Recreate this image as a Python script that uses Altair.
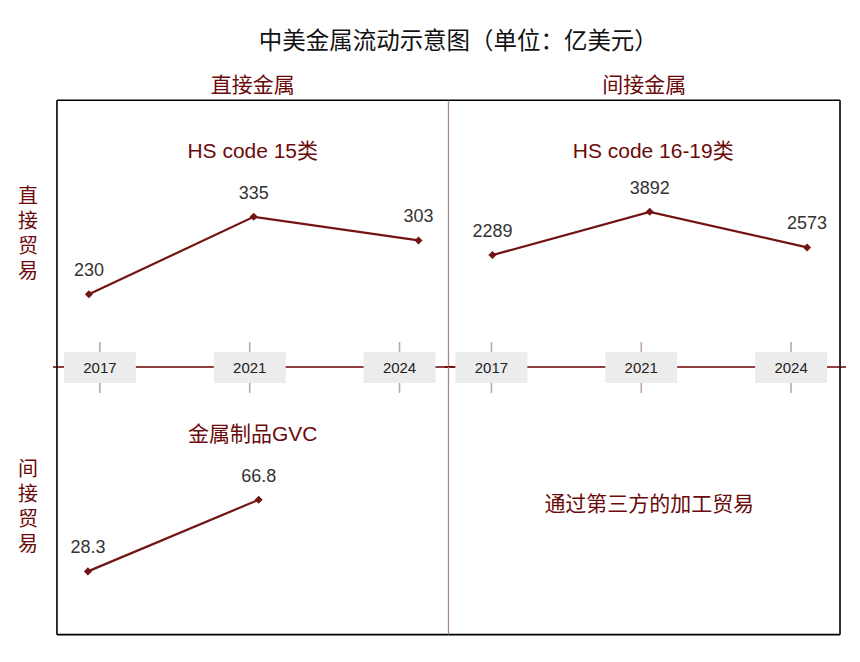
import altair as alt
import pandas as pd

# ---------------- data ----------------
years = ["2017", "2021", "2024"]
hs15_values = [230, 335, 303]            # 直接贸易 / 直接金属
hs16_19_values = [2289, 3892, 2573]      # 直接贸易 / 间接金属
gvc_years = ["2017", "2021"]
gvc_values = [28.3, 66.8]                # 间接贸易 / 直接金属

chart_title = "中美金属流动示意图（单位：亿美元）"
col_headers = ["直接金属", "间接金属"]
row_headers = ["直接贸易", "间接贸易"]
panel_notes = ["HS code 15类", "HS code 16-19类", "金属制品GVC", "通过第三方的加工贸易"]

# ---------------- style ----------------
DARK = "#6b0a0a"
LINE = "#731414"
DIVIDER = "#a88a8a"
TICK = "#bba8a8"
FONT = "Liberation Sans, Noto Sans CJK SC, sans-serif"
W, H_TOP, H_BOT = 392, 267, 268


def fmt(v):
    return f"{v:g}"


def one():
    return pd.DataFrame({"k": [0]})


def hrule(y, x0, x1, color="#000", sw=1.6):
    return alt.Chart(one()).mark_rule(color=color, strokeWidth=sw).encode(
        x=alt.value(x0), x2=alt.value(x1), y=alt.value(y))


def vrule(x, y0, y1, color="#000", sw=1.6):
    return alt.Chart(one()).mark_rule(color=color, strokeWidth=sw).encode(
        x=alt.value(x), y=alt.value(y0), y2=alt.value(y1))


def note(text, x, y, size=21):
    return alt.Chart(pd.DataFrame({"t": [text]})).mark_text(
        font=FONT, fontSize=size, color=DARK).encode(
        x=alt.value(x), y=alt.value(y), text="t:N")


def row_label(text, y):
    return alt.Chart(pd.DataFrame({"t": ["\n".join(text)]})).mark_text(
        font=FONT, fontSize=20, color=DARK, lineBreak="\n", lineHeight=25).encode(
        x=alt.value(-29), y=alt.value(y), text="t:N")


def series(yrs, vals, x_range, y_domain):
    df = pd.DataFrame({"year": yrs, "value": vals, "label": [fmt(v) for v in vals]})
    base = alt.Chart(df).encode(
        x=alt.X("year:O", scale=alt.Scale(type="point", domain=yrs, range=x_range, padding=0), axis=None),
        y=alt.Y("value:Q", scale=alt.Scale(domain=y_domain, nice=False, zero=False), axis=None),
    )
    line = base.mark_line(color=LINE, strokeWidth=2.2)
    pts = base.mark_point(shape="diamond", filled=True, size=65, color=LINE, opacity=1)
    txt = base.mark_text(dy=-23, fontSize=18, color="#333", font=FONT).encode(text="label:N")
    return [line, pts, txt]


def year_axis():
    adf = pd.DataFrame({"tick": years})
    ax = alt.X("tick:O", scale=alt.Scale(type="point", domain=years, range=[43, 343], padding=0), axis=None)
    base = alt.Chart(adf).encode(x=ax)
    line = hrule(H_TOP, -4, W + 6, color="#6b0000", sw=1.4)
    ticks = base.mark_rule(color=TICK, strokeWidth=1.6).encode(y=alt.value(H_TOP - 25), y2=alt.value(H_TOP + 26))
    boxes = base.mark_rect(color="#ececec", width=72).encode(y=alt.value(H_TOP - 15), y2=alt.value(H_TOP + 16))
    labels = base.mark_text(font=FONT, fontSize=15, color="#222").encode(y=alt.value(H_TOP + 1), text="tick:N")
    return [line, ticks, boxes, labels]


header = lambda t: alt.TitleParams(t, font=FONT, fontSize=21, color=DARK, fontWeight="normal", offset=3)

tl = alt.layer(
    *series(years, hs15_values, [32, 362], [131.6, 492.9]),
    note(panel_notes[0], 196, 52),
    hrule(0, 0, W), vrule(0, 0, H_TOP), vrule(W, 0, H_TOP, color=DIVIDER, sw=1.3),
    row_label(row_headers[0], 97),
    *year_axis(),
).resolve_scale(x="independent").properties(width=W, height=H_TOP, title=header(col_headers[0]))

tr = alt.layer(
    *series(years, hs16_19_values, [44, 359], [-1858, 8027]),
    note(panel_notes[1], 205, 52),
    hrule(0, 0, W), vrule(W, 0, H_TOP),
    *year_axis(),
).resolve_scale(x="independent").properties(width=W, height=H_TOP, title=header(col_headers[1]))

bl = alt.layer(
    *series(gvc_years, gvc_values, [31, 202], [-5.7, 138.2]),
    note(panel_notes[2], 196, 68),
    vrule(0, 0, H_BOT), hrule(H_BOT, 0, W), vrule(W, 0, H_BOT, color=DIVIDER, sw=1.3),
    row_label(row_headers[1], 103),
).properties(width=W, height=H_BOT)

br = alt.layer(
    note(panel_notes[3], 201, 138),
    hrule(H_BOT, 0, W), vrule(W, 0, H_BOT),
).properties(width=W, height=H_BOT)

chart = alt.concat(tl, tr, bl, br, columns=2, spacing=0, bounds="flush").properties(
    title=alt.TitleParams(chart_title, font=FONT, fontSize=23.5, color="#111", fontWeight="normal",
                          anchor="middle", offset=22, dx=26),
    padding={"left": 10, "top": 21, "right": 5, "bottom": 5},
).configure_view(stroke=None)

chart.save("out.html", embed_options={"renderer": "svg", "actions": False})
